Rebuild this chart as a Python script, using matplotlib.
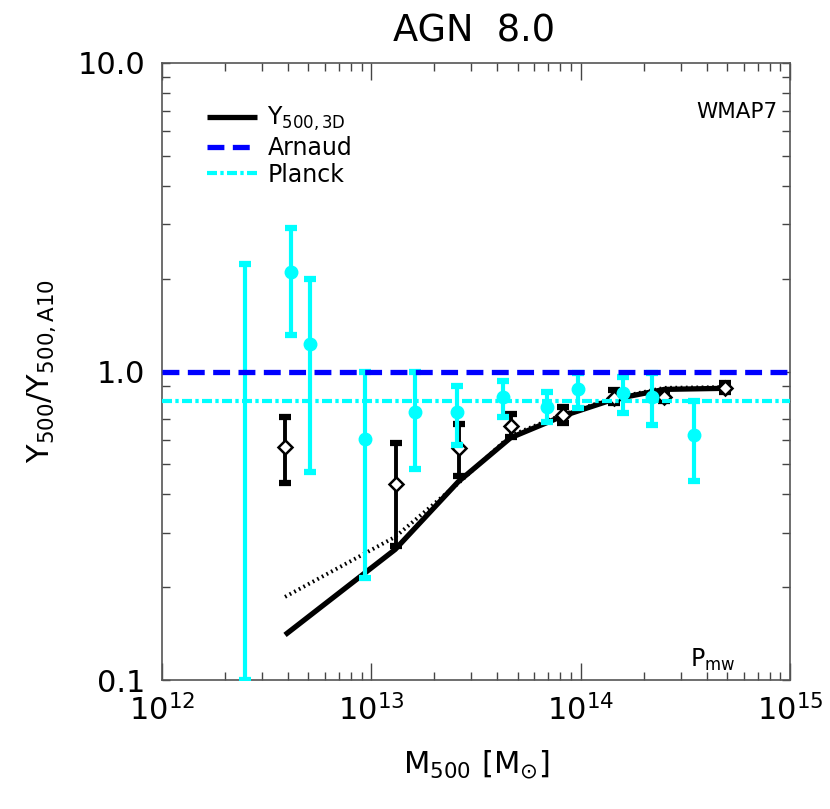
import numpy as np
import matplotlib
matplotlib.use("Agg")
import matplotlib.pyplot as plt
from matplotlib.ticker import FixedLocator, FixedFormatter, LogLocator, NullFormatter

# ---------------- data ----------------
# Y500,3D relation (solid) and dotted companion line
line_m = [3.87e12, 1.30e13, 2.60e13, 4.63e13, 8.2e13, 1.44e14, 2.51e14, 4.89e14]
line_y = [0.140, 0.265, 0.439, 0.610, 0.717, 0.813, 0.875, 0.882]
dot_y = [0.186, 0.291, 0.434, 0.620, 0.725, 0.820, 0.885, 0.890]

# black diamonds with error bars
blk_m = [3.85e12, 1.31e13, 2.62e13, 4.63e13, 8.20e13, 1.44e14, 2.51e14, 4.89e14]
blk_y = [0.570, 0.431, 0.564, 0.668, 0.723, 0.819, 0.825, 0.882]
blk_lo = [0.436, 0.272, 0.458, 0.615, 0.680, 0.789, 0.800, 0.860]
blk_hi = [0.710, 0.588, 0.676, 0.728, 0.769, 0.871, 0.850, 0.916]

# cyan points with error bars
cy_m = [2.49e12, 4.15e12, 5.09e12, 9.29e12, 1.62e13, 2.56e13, 4.24e13, 6.90e13,
        9.75e13, 1.59e14, 2.18e14, 3.47e14]
cy_y = [np.nan, 2.10, 1.23, 0.606, 0.737, 0.737, 0.825, 0.769, 0.876, 0.850, 0.825, 0.622]
cy_lo = [0.100, 1.31, 0.473, 0.214, 0.482, 0.578, 0.714, 0.684, 0.760, 0.732, 0.671, 0.440]
cy_hi = [2.23, 2.91, 1.99, 1.00, 1.00, 0.90, 0.93, 0.856, 0.99, 0.962, 0.987, 0.800]

arnaud_level = 1.0
planck_level = 0.80

title = "AGN  8.0"
legend_labels = [r"$\mathregular{Y_{500,3D}}$", "Arnaud", "Planck"]
y_ticks = [0.1, 1.0, 10.0]
y_ticklabels = ["0.1", "1.0", "10.0"]

# ---------------- figure ----------------
W, H = 830, 809
fig = plt.figure(figsize=(W / 100, H / 100), dpi=100)
ax = fig.add_axes([162 / W, 1 - 680 / H, 628 / W, 617 / H])
ax.set_xscale("log")
ax.set_yscale("log")
ax.set_xlim(1e12, 1e15)
ax.set_ylim(0.1, 10.0)

# lines
l_solid, = ax.plot(line_m, line_y, color="black", lw=3.8, solid_capstyle="butt", zorder=3)
ax.plot(line_m, dot_y, color="black", lw=2.8, linestyle=(0, (0.45, 0.9)), zorder=3)

# black error bars
ax.vlines(blk_m, blk_lo, blk_hi, color="black", lw=2.8, zorder=4)
ax.plot(blk_m, blk_lo, linestyle="none", marker="_", ms=8, mew=4.5, color="black", zorder=4)
ax.plot(blk_m, blk_hi, linestyle="none", marker="_", ms=8, mew=4.5, color="black", zorder=4)
ax.plot(blk_m, blk_y, linestyle="none", marker="D", ms=7, mfc="white", mec="black", mew=1.8, zorder=5)

# cyan error bars
cyan = "#00FFFF"
ax.vlines(cy_m, cy_lo, cy_hi, color=cyan, lw=3.0, zorder=6)
ax.plot(cy_m, cy_lo, linestyle="none", marker="_", ms=9, mew=4.5, color=cyan, zorder=6)
ax.plot(cy_m, cy_hi, linestyle="none", marker="_", ms=9, mew=4.5, color=cyan, zorder=6)
ax.plot(cy_m, cy_y, linestyle="none", marker="o", ms=9, color=cyan, zorder=7)

# horizontal reference lines
l_arn = ax.axhline(arnaud_level, color="#0000FF", lw=3.8, linestyle=(0, (3.2, 1.6)), zorder=8)
l_pla = ax.axhline(planck_level, color=cyan, lw=3.0, linestyle=(0, (2.4, 0.8, 0.8, 0.8)), zorder=8)

# legend
leg = ax.legend([l_solid, l_arn, l_pla], legend_labels, loc="upper left",
                bbox_to_anchor=(0.072, 0.932), frameon=False, fontsize=17,
                handlelength=2.1, handletextpad=0.45, labelspacing=0.12,
                borderpad=0, borderaxespad=0)

ax.text(0.915, 0.92, "WMAP7", transform=ax.transAxes, fontsize=15.5,
        ha="center", va="center")
ax.text(0.877, 0.032, r"$\mathregular{P_{mw}}$", transform=ax.transAxes, fontsize=17,
        ha="center", va="center")

# ticks
ax.yaxis.set_major_locator(FixedLocator(y_ticks))
ax.yaxis.set_major_formatter(FixedFormatter(y_ticklabels))
ax.yaxis.set_minor_locator(LogLocator(base=10, subs=np.arange(2, 10)))
ax.yaxis.set_minor_formatter(NullFormatter())
ax.xaxis.set_major_locator(LogLocator(base=10, numticks=10))
ax.xaxis.set_minor_locator(LogLocator(base=10, subs=np.arange(2, 10), numticks=20))
ax.xaxis.set_minor_formatter(NullFormatter())
ax.tick_params(which="both", direction="in", top=True, right=True, width=1.0,
               color="#444444")
ax.tick_params(which="major", length=12, labelsize=22, pad=10)
ax.tick_params(which="minor", length=6)
ax.tick_params(axis="y", which="major", length=6, pad=12)
for s in ax.spines.values():
    s.set_linewidth(1.2)
    s.set_color("#555555")

ax.set_xlabel(r"$\mathregular{M_{500}\ [M_{\odot}]}$", fontsize=22, labelpad=16)
ax.set_ylabel(r"$\mathregular{Y_{500}/Y_{500,A10}}$", fontsize=22, labelpad=14)
fig.text(474 / W, 1 - 31 / H, title, fontsize=26.5, ha="center", va="center")

fig.savefig("out.png", dpi=100)
